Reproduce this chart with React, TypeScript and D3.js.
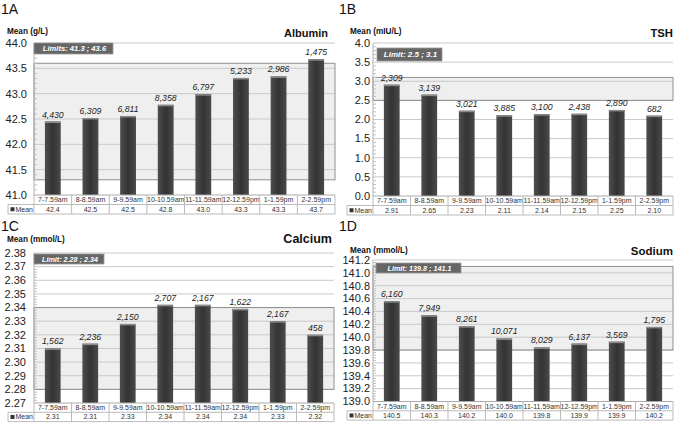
import React from "react";
import * as d3 from "d3";

const timeSlots = ["7-7.59am", "8-8.59am", "9-9.59am", "10-10.59am", "11-11.59am", "12-12.59pm", "1-1.59pm", "2-2.59pm"];

const albuminMean = [42.45, 42.52, 42.56, 42.78, 42.99, 43.31, 43.34, 43.68];
const albuminMeanLabel = ["42.4", "42.5", "42.5", "42.8", "43.0", "43.3", "43.3", "43.7"];
const albuminCount = [4430, 6309, 6811, 8358, 6797, 5233, 2986, 1475];
const albuminLimits = [41.3, 43.6];
const albuminTicks = [41.0, 41.5, 42.0, 42.5, 43.0, 43.5, 44.0];

const tshMean = [2.91, 2.65, 2.23, 2.11, 2.14, 2.15, 2.25, 2.1];
const tshMeanLabel = ["2.91", "2.65", "2.23", "2.11", "2.14", "2.15", "2.25", "2.10"];
const tshCount = [2309, 3139, 3021, 3885, 3100, 2438, 2890, 682];
const tshLimits = [2.5, 3.1];
const tshTicks = [0, 0.5, 1.0, 1.5, 2.0, 2.5, 3.0, 3.5, 4.0];

const calciumMean = [2.31, 2.3135, 2.328, 2.342, 2.342, 2.339, 2.33, 2.32];
const calciumMeanLabel = ["2.31", "2.31", "2.33", "2.34", "2.34", "2.34", "2.33", "2.32"];
const calciumCount = [1562, 2236, 2150, 2707, 2167, 1622, 2167, 458];
const calciumLimits = [2.28, 2.34];
const calciumTicks = [2.27, 2.28, 2.29, 2.3, 2.31, 2.32, 2.33, 2.34, 2.35, 2.36, 2.37, 2.38];

const sodiumMean = [140.56, 140.34, 140.17, 139.98, 139.84, 139.9, 139.93, 140.16];
const sodiumMeanLabel = ["140.5", "140.3", "140.2", "140.0", "139.8", "139.9", "139.9", "140.2"];
const sodiumCount = [6160, 7949, 8261, 10071, 8029, 6137, 3569, 1795];
const sodiumLimits = [139.8, 141.1];
const sodiumTicks = [139.0, 139.2, 139.4, 139.6, 139.8, 140.0, 140.2, 140.4, 140.6, 140.8, 141.0, 141.2];

const FONT = "'Liberation Sans', Arial, Helvetica, sans-serif";

type PanelProps = {
  id: string;
  letter: string;
  unit: string;
  title: string;
  limitText: string;
  means: number[];
  meanLabels: string[];
  counts: number[];
  limits: number[];
  ticks: number[];
  decimals: number;
  left: number;
  right: number;
  top: number;
  bottom: number;
  legendX: number;
  tickLabelX: number;
  letterPos: [number, number];
  unitPos: [number, number];
  titlePos: [number, number];
  titleSize: number;
  box: [number, number, number, number];
  boxFont: number;
  rowH: number;
};

function Panel(p: PanelProps) {
  const y = d3.scaleLinear().domain([p.ticks[0], p.ticks[p.ticks.length - 1]]).range([p.bottom, p.top]);
  const x = d3.scaleBand<string>().domain(timeSlots).range([p.left, p.right]).padding(0);
  const bw = x.bandwidth() * 0.42;
  const fmt = d3.format(",");
  const minor: number[] = [];
  for (let i = 0; i < p.ticks.length - 1; i++) {
    const a = p.ticks[i];
    const b = p.ticks[i + 1];
    for (let k = 1; k < 5; k++) minor.push(a + ((b - a) * k) / 5);
  }
  const row1 = p.bottom;
  const row2 = p.bottom + p.rowH;
  const row3 = p.bottom + 2 * p.rowH;
  return (
    <g>
      <text x={p.letterPos[0]} y={p.letterPos[1]} fontSize={14} fill="#111" fontFamily={FONT}>{p.letter}</text>
      <text x={p.unitPos[0]} y={p.unitPos[1]} fontSize={8.2} fontWeight="bold" fill="#111" fontFamily={FONT}>{p.unit}</text>
      <text x={p.titlePos[0]} y={p.titlePos[1]} fontSize={p.titleSize} fontWeight="bold" fill="#111" textAnchor="end" fontFamily={FONT}>{p.title}</text>

      <rect x={p.left} y={y(p.limits[1])} width={p.right - p.left} height={y(p.limits[0]) - y(p.limits[1])} fill="#efefef" />
      {p.ticks.slice(1).map((t) => (
        <line key={"g" + t} x1={p.left} x2={p.right} y1={y(t)} y2={y(t)} stroke="#c9c9c9" strokeWidth={1} />
      ))}
      <rect x={p.left} y={y(p.limits[1])} width={p.right - p.left} height={y(p.limits[0]) - y(p.limits[1])} fill="none" stroke="#8f8f8f" strokeWidth={1} />

      <line x1={p.left} x2={p.left} y1={p.top} y2={p.bottom} stroke="#b0b0b0" />
      {minor.map((m, i) => (
        <line key={"m" + i} x1={p.left} x2={p.left + 3} y1={y(m)} y2={y(m)} stroke="#c0c0c0" />
      ))}
      {p.ticks.map((t) => (
        <text key={"t" + t} x={p.tickLabelX} y={y(t)} dy="0.35em" fontSize={11} fill="#222" textAnchor="end" fontFamily={FONT}>
          {t.toFixed(p.decimals)}
        </text>
      ))}

      {p.means.map((v, i) => {
        const cx = (x(timeSlots[i]) as number) + x.bandwidth() / 2;
        return (
          <g key={"b" + i}>
            <rect x={cx - bw / 2} y={y(v)} width={bw} height={p.bottom - y(v)} fill={`url(#grad${p.id})`} />
            <rect x={cx - bw / 2} y={y(v)} width={bw} height={1.5} fill="#8a8a8a" />
            <text x={cx} y={y(v) - 4} fontSize={8.7} fontStyle="italic" fill="#222" textAnchor="middle" fontFamily={FONT}>
              {fmt(p.counts[i])}
            </text>
          </g>
        );
      })}

      <rect x={p.box[0]} y={p.box[1]} width={p.box[2]} height={p.box[3]} fill="#666" stroke="#999" strokeWidth={0.8} />
      <text x={p.box[0] + p.box[2] / 2 + 1} y={p.box[1] + p.box[3] / 2} dy="0.36em" fontSize={p.boxFont} fontWeight="bold" fontStyle="italic" fill="#fff" textAnchor="middle" fontFamily={FONT}>
        {p.limitText}
      </text>

      <line x1={p.left} x2={p.right} y1={row1} y2={row1} stroke="#aaa" />
      <line x1={p.left} x2={p.right} y1={row2} y2={row2} stroke="#bbb" />
      <line x1={p.legendX} x2={p.right} y1={row3} y2={row3} stroke="#bbb" />
      <line x1={p.legendX} x2={p.left} y1={row2} y2={row2} stroke="#bbb" />
      <line x1={p.legendX} x2={p.legendX} y1={row2} y2={row3} stroke="#bbb" />
      {timeSlots.map((c, i) => {
        const x0 = x(c) as number;
        return (
          <g key={"c" + i}>
            <line x1={x0} x2={x0} y1={row1} y2={row3} stroke="#bbb" />
            <text x={x0 + x.bandwidth() / 2} y={(row1 + row2) / 2} dy="0.36em" fontSize={7} fill="#333" textAnchor="middle" fontFamily={FONT}>{c}</text>
            <text x={x0 + x.bandwidth() / 2} y={(row2 + row3) / 2} dy="0.36em" fontSize={7} fill="#333" textAnchor="middle" fontFamily={FONT}>{p.meanLabels[i]}</text>
          </g>
        );
      })}
      <line x1={p.right} x2={p.right} y1={row1} y2={row3} stroke="#bbb" />
      <rect x={p.legendX + 2.5} y={(row2 + row3) / 2 - 2} width={4} height={4} fill="#333" />
      <text x={p.legendX + 7.5} y={(row2 + row3) / 2} dy="0.36em" fontSize={7} fill="#333" fontFamily={FONT}>Mean</text>
    </g>
  );
}

export default function App() {
  const ids = ["A", "B", "C", "D"];
  return (
    <svg width={676} height={423} style={{ position: "absolute", left: 0, top: 0, background: "#fff" }}>
      <defs>
        {ids.map((id) => (
          <linearGradient key={id} id={"grad" + id} x1="0" x2="1" y1="0" y2="0">
            <stop offset="0" stopColor="#4e4e4e" />
            <stop offset="0.5" stopColor="#333" />
            <stop offset="1" stopColor="#4a4a4a" />
          </linearGradient>
        ))}
      </defs>
      <rect x={0} y={0} width={676} height={423} fill="#fff" />
      <Panel id="A" letter="1A" unit="Mean (g/L)" title="Albumin" limitText="Limits:  41.3  ;  43.6"
        means={albuminMean} meanLabels={albuminMeanLabel} counts={albuminCount} limits={albuminLimits} ticks={albuminTicks} decimals={1}
        left={34} right={335} top={43} bottom={195} legendX={8} tickLabelX={27}
        letterPos={[1, 14]} unitPos={[7, 34]} titlePos={[328, 37]} titleSize={11}
        box={[34, 43, 79, 11]} boxFont={7.6} rowH={9.5} />
      <Panel id="B" letter="1B" unit="Mean (mIU/L)" title="TSH" limitText="Limit: 2.5 ; 3.1"
        means={tshMean} meanLabels={tshMeanLabel} counts={tshCount} limits={tshLimits} ticks={tshTicks} decimals={1}
        left={373} right={673} top={43} bottom={196} legendX={347} tickLabelX={370}
        letterPos={[339, 14]} unitPos={[350, 34]} titlePos={[673, 37]} titleSize={11.3}
        box={[377, 48, 65, 13]} boxFont={8} rowH={9.5} />
      <Panel id="C" letter="1C" unit="Mean (mmol/L)" title="Calcium" limitText="Limit: 2.28 ; 2.34"
        means={calciumMean} meanLabels={calciumMeanLabel} counts={calciumCount} limits={calciumLimits} ticks={calciumTicks} decimals={2}
        left={34} right={334} top={253} bottom={403} legendX={8} tickLabelX={26}
        letterPos={[1, 231]} unitPos={[7, 242]} titlePos={[332, 243]} titleSize={12.5}
        box={[34, 254, 70, 10]} boxFont={7.2} rowH={9.3} />
      <Panel id="D" letter="1D" unit="Mean (mmol/L)" title="Sodium" limitText="Limit: 139.8 ; 141.1"
        means={sodiumMean} meanLabels={sodiumMeanLabel} counts={sodiumCount} limits={sodiumLimits} ticks={sodiumTicks} decimals={1}
        left={373} right={673} top={260} bottom={401.5} legendX={347} tickLabelX={370}
        letterPos={[339, 231]} unitPos={[350, 253]} titlePos={[673, 255]} titleSize={11.5}
        box={[376, 263, 85, 10]} boxFont={7.2} rowH={9.3} />
    </svg>
  );
}
